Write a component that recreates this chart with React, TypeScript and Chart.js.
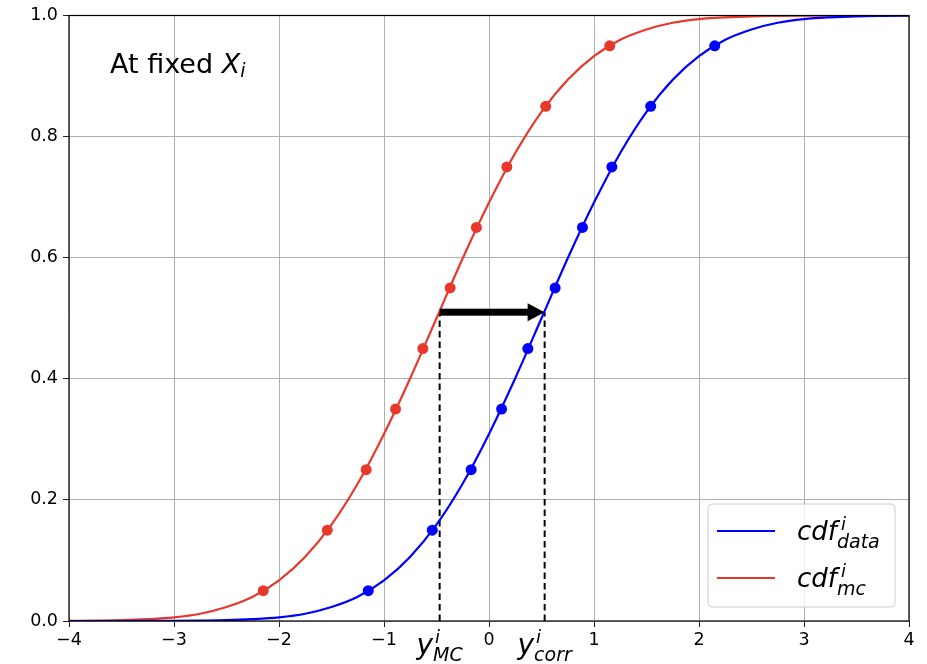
import React, { useEffect, useRef } from 'react';
import { Chart, registerables } from 'chart.js';

Chart.register(...registerables);

// Sampled curve positions (x) and the two cumulative distributions
const CURVE_X = [
  -4, -3.75, -3.5, -3.25, -3, -2.75, -2.5, -2.25, -2, -1.75, -1.5, -1.25, -1, -0.75, -0.5, -0.25,
  0, 0.25, 0.5, 0.75, 1, 1.25, 1.5, 1.75, 2, 2.25, 2.5, 2.75, 3, 3.25, 3.5, 3.75, 4,
];
const CDF_DATA = [
  0.0, 0.0, 0.0, 0.0001, 0.0002, 0.0006, 0.0013, 0.003, 0.006, 0.012, 0.023, 0.04, 0.067, 0.106, 0.159, 0.227,
  0.309, 0.401, 0.5, 0.599, 0.691, 0.773, 0.841, 0.894, 0.933, 0.96, 0.977, 0.988, 0.994, 0.997, 0.9987, 0.9994, 0.9998,
];
const CDF_MC = [
  0.0002, 0.0006, 0.0013, 0.003, 0.006, 0.012, 0.023, 0.04, 0.067, 0.106, 0.159, 0.227, 0.309, 0.401, 0.5, 0.599,
  0.691, 0.773, 0.841, 0.894, 0.933, 0.96, 0.977, 0.988, 0.994, 0.997, 0.9987, 0.9994, 0.9998, 0.9999, 1.0, 1.0, 1.0,
];

// Quantile markers on each curve
const QUANTILE_LEVELS = [0.05, 0.15, 0.25, 0.35, 0.45, 0.55, 0.65, 0.75, 0.85, 0.95];
const DATA_QUANTILE_X = [-1.15, -0.54, -0.17, 0.12, 0.37, 0.63, 0.89, 1.17, 1.54, 2.15];
const MC_QUANTILE_X = [-2.15, -1.54, -1.17, -0.89, -0.63, -0.37, -0.12, 0.17, 0.54, 1.15];

// Axis ticks
const X_TICKS = [-4, -3, -2, -1, 0, 1, 2, 3, 4];
const Y_TICKS = [0, 0.2, 0.4, 0.6, 0.8, 1.0];

// Correction: y_MC on the MC curve is mapped to y_corr on the data curve at the same level
const ARROW_LEVEL = 0.51;
const Y_MC = -0.47;
const Y_CORR = 0.53;

const BLUE = '#0000ff';
const RED = '#e8382b';
const FONT = "'DejaVu Sans', sans-serif";

type Piece = { text: string; size: number; italic?: boolean; dx?: number; dy?: number; stack?: boolean };

// Draws a run of text pieces; a piece with `stack` starts at the same x as the previous one
function drawMath(ctx: CanvasRenderingContext2D, pieces: Piece[], x: number, baseline: number, align: 'left' | 'center' = 'left') {
  const starts: number[] = [];
  let cursor = 0;
  let prevStart = 0;
  let end = 0;
  pieces.forEach((p) => {
    ctx.font = `${p.italic ? 'italic ' : ''}${p.size}px ${FONT}`;
    const w = ctx.measureText(p.text).width;
    const start = p.stack ? prevStart : cursor;
    starts.push(start);
    if (!p.stack) prevStart = start;
    cursor = Math.max(cursor, start + w + (p.dx || 0));
    end = Math.max(end, start + w + (p.dx || 0));
  });
  const offset = align === 'center' ? -end / 2 : 0;
  ctx.textBaseline = 'alphabetic';
  ctx.textAlign = 'left';
  pieces.forEach((p, i) => {
    ctx.font = `${p.italic ? 'italic ' : ''}${p.size}px ${FONT}`;
    ctx.fillText(p.text, x + offset + starts[i] + (p.dx || 0), baseline + (p.dy || 0));
  });
}

const overlay = {
  id: 'overlay',
  afterDatasetsDraw(chart: any) {
    const { ctx, chartArea, scales } = chart;
    const xs = scales.x;
    const ys = scales.y;
    ctx.save();

    // arrow from the MC curve to the data curve
    const x0 = xs.getPixelForValue(Y_MC);
    const x1 = xs.getPixelForValue(Y_CORR);
    const yy = ys.getPixelForValue(ARROW_LEVEL);
    const headLen = 17;
    const headHalf = 9;
    ctx.fillStyle = '#000';
    ctx.fillRect(x0, yy - 3.5, x1 - x0 - headLen + 1, 7);
    ctx.beginPath();
    ctx.moveTo(x1 - headLen, yy - headHalf);
    ctx.lineTo(x1, yy);
    ctx.lineTo(x1 - headLen, yy + headHalf);
    ctx.closePath();
    ctx.fill();

    // plot frame
    ctx.strokeStyle = '#000';
    ctx.lineWidth = 1.2;
    ctx.strokeRect(chartArea.left, chartArea.top, chartArea.right - chartArea.left, chartArea.bottom - chartArea.top);
    ctx.restore();
  },
  afterDraw(chart: any) {
    const { ctx, scales } = chart;
    const xs = scales.x;
    ctx.save();
    ctx.fillStyle = '#000';

    // annotation
    drawMath(ctx, [
      { text: 'At fixed ', size: 27 },
      { text: 'X', size: 27, italic: true },
      { text: 'i', size: 19, italic: true, dy: 4 },
    ], 110, 73);

    // labels under the axis
    drawMath(ctx, [
      { text: 'y', size: 28, italic: true },
      { text: 'i', size: 18, italic: true, dx: 2, dy: -11 },
      { text: 'MC', size: 19, italic: true, dy: 7, stack: true },
    ], xs.getPixelForValue(Y_MC), 654, 'center');
    drawMath(ctx, [
      { text: 'y', size: 28, italic: true },
      { text: 'i', size: 18, italic: true, dx: 2, dy: -11 },
      { text: 'corr', size: 19, italic: true, dy: 7, stack: true },
    ], xs.getPixelForValue(Y_CORR), 654, 'center');

    // legend
    const bx = 708, by = 504, bw = 187, bh = 103, r = 4;
    ctx.beginPath();
    ctx.moveTo(bx + r, by);
    ctx.arcTo(bx + bw, by, bx + bw, by + bh, r);
    ctx.arcTo(bx + bw, by + bh, bx, by + bh, r);
    ctx.arcTo(bx, by + bh, bx, by, r);
    ctx.arcTo(bx, by, bx + bw, by, r);
    ctx.closePath();
    ctx.fillStyle = 'rgba(255,255,255,0.8)';
    ctx.fill();
    ctx.strokeStyle = '#cccccc';
    ctx.lineWidth = 1;
    ctx.stroke();

    const entries = [
      { color: BLUE, sub: 'data', y: 531, base: 540 },
      { color: RED, sub: 'mc', y: 578, base: 587 },
    ];
    entries.forEach((e) => {
      ctx.strokeStyle = e.color;
      ctx.lineWidth = 2;
      ctx.beginPath();
      ctx.moveTo(717, e.y);
      ctx.lineTo(775, e.y);
      ctx.stroke();
      ctx.fillStyle = '#000';
      drawMath(ctx, [
        { text: 'cdf', size: 26, italic: true },
        { text: 'i', size: 18, italic: true, dx: 4, dy: -10 },
        { text: e.sub, size: 19, italic: true, dy: 8, stack: true },
      ], 797, e.base);
    });
    ctx.restore();
  },
};

export default function App() {
  const canvasRef = useRef<HTMLCanvasElement | null>(null);

  useEffect(() => {
    document.body.style.margin = '0';
    const canvas = canvasRef.current;
    if (!canvas) return;
    Chart.defaults.font.family = FONT;

    const curve = (ys: number[]) => CURVE_X.map((x, i) => ({ x, y: ys[i] }));
    const marks = (xs: number[]) => xs.map((x, i) => ({ x, y: QUANTILE_LEVELS[i] }));

    const chart = new Chart(canvas, {
      type: 'scatter',
      data: {
        datasets: [
          {
            label: 'cdf data',
            data: curve(CDF_DATA),
            showLine: true,
            borderColor: BLUE,
            borderWidth: 2.2,
            pointRadius: 0,
            cubicInterpolationMode: 'monotone',
          },
          {
            label: 'cdf mc',
            data: curve(CDF_MC),
            showLine: true,
            borderColor: RED,
            borderWidth: 2.2,
            pointRadius: 0,
            cubicInterpolationMode: 'monotone',
          },
          {
            label: 'data quantiles',
            data: marks(DATA_QUANTILE_X),
            showLine: false,
            pointRadius: 5.5,
            pointBorderWidth: 0,
            backgroundColor: BLUE,
          },
          {
            label: 'mc quantiles',
            data: marks(MC_QUANTILE_X),
            showLine: false,
            pointRadius: 5.5,
            pointBorderWidth: 0,
            backgroundColor: RED,
          },
          {
            label: 'y mc',
            data: [{ x: Y_MC, y: 0 }, { x: Y_MC, y: ARROW_LEVEL }],
            showLine: true,
            borderColor: '#000',
            borderWidth: 2,
            borderDash: [6.5, 4],
            pointRadius: 0,
          },
          {
            label: 'y corr',
            data: [{ x: Y_CORR, y: 0 }, { x: Y_CORR, y: ARROW_LEVEL }],
            showLine: true,
            borderColor: '#000',
            borderWidth: 2,
            borderDash: [6.5, 4],
            pointRadius: 0,
          },
        ],
      } as any,
      options: {
        responsive: false,
        animation: false,
        devicePixelRatio: 1,
        layout: { padding: { top: 14, right: 18, left: 0, bottom: 0 } },
        plugins: { legend: { display: false }, tooltip: { enabled: false } },
        scales: {
          x: {
            type: 'linear',
            min: -4,
            max: 4,
            afterBuildTicks: (s: any) => { s.ticks = X_TICKS.map((v) => ({ value: v })); },
            afterFit: (s: any) => { s.height = 43; },
            ticks: {
              autoSkip: false,
              maxRotation: 0,
              color: '#000',
              padding: 3,
              font: { size: 17.5, family: FONT },
              callback: (v: any) => (Number(v) < 0 ? '\u2212' + Math.abs(Number(v)) : String(v)),
            },
            grid: { color: '#b0b0b0', lineWidth: 1, tickLength: 6, tickColor: '#222' },
            border: { display: false },
          },
          y: {
            type: 'linear',
            min: 0,
            max: 1,
            afterBuildTicks: (s: any) => { s.ticks = Y_TICKS.map((v) => ({ value: v })); },
            afterFit: (s: any) => { s.width = 69; },
            ticks: {
              color: '#000',
              padding: 5,
              font: { size: 17.5, family: FONT },
              callback: (v: any) => Number(v).toFixed(1),
            },
            grid: { color: '#b0b0b0', lineWidth: 1, tickLength: 6, tickColor: '#222' },
            border: { display: false },
          },
        },
      } as any,
      plugins: [overlay],
    });
    return () => chart.destroy();
  }, []);

  return (
    <div style={{ width: 927, height: 664, background: '#fff' }}>
      <canvas ref={canvasRef} width={927} height={664} style={{ display: 'block' }} />
    </div>
  );
}
